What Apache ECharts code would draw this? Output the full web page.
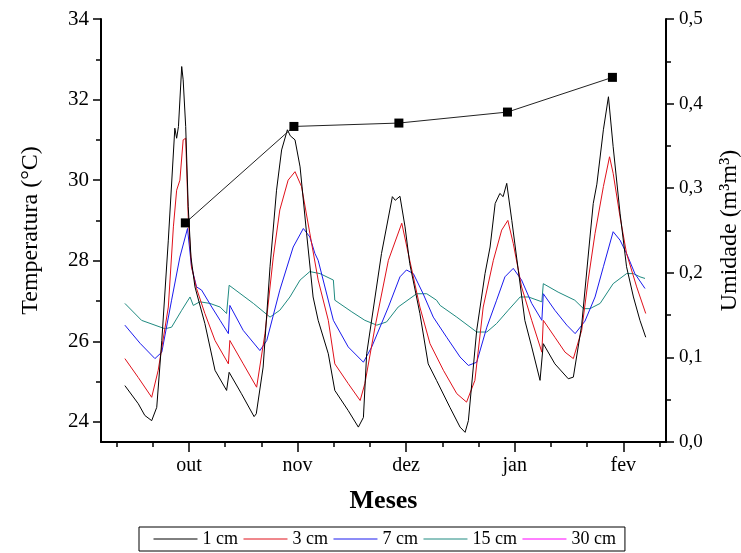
<!DOCTYPE html>
<html>
<head>
<meta charset="utf-8">
<script src="https://cdn.jsdelivr.net/npm/echarts@6/dist/echarts.min.js"></script>
<style>
html,body{margin:0;padding:0;background:#fff;}
#chart{width:741px;height:553px;}
</style>
</head>
<body>
<div id="chart"></div>
<script>
// x values are days counted from the "out" tick (out=0, nov=30, dez=60, jan=90, fev=120)
var monthLabels = ['out', 'nov', 'dez', 'jan', 'fev'];
var monthDays = [0, 30, 60, 90, 120];
var minorDays = [-20, -10, 10, 20, 40, 50, 70, 80, 100, 110, 130];
var tempTicks = [24, 26, 28, 30, 32, 34];
var tempMinorTicks = [25, 27, 29, 31, 33];
var seriesNames = ['1 cm', '3 cm', '7 cm', '15 cm', '30 cm'];

var t1cm = [[-17.7,24.90],[-14,24.45],[-12.2,24.16],[-10.3,24.03],[-8.9,24.36],[-7.5,26.02],[-5.7,28.51],[-3.9,31.29],[-3.4,31.04],[-2.9,31.33],[-2.0,32.82],[-1.6,32.49],[-0.9,31.33],[-0.2,29.34],[0.55,28.09],[1.66,27.35],[4.4,26.44],[7.2,25.28],[10.4,24.78],[11.1,25.23],[14.5,24.70],[18.0,24.13],[18.6,24.20],[20.5,25.36],[22.4,27.85],[24.2,29.75],[24.7,29.79],[25.6,30.75],[27.2,31.25],[28.0,31.10],[29.3,31.00],[30.7,30.33],[32.5,28.68],[34.3,27.10],[35.7,26.52],[38.5,25.69],[40.3,24.78],[44.0,24.28],[46.8,23.87],[48.2,24.11],[49.1,25.69],[53.2,28.18],[56.2,29.59],[57.0,29.50],[58.3,29.60],[59.7,28.84],[61.0,27.93],[63.8,26.69],[66.1,25.44],[68.4,25.03],[72.1,24.36],[74.9,23.87],[76.3,23.74],[77.2,24.03],[79.5,26.27],[81.8,27.68],[83.2,28.34],[84.6,29.42],[85.9,29.67],[86.8,29.59],[87.8,29.92],[89.2,29.00],[91.0,27.76],[92.8,26.52],[94.7,25.86],[97.0,25.03],[97.9,25.94],[101.1,25.44],[104.8,25.07],[106.2,25.11],[108.5,26.40],[110.8,28.59],[111.7,29.42],[112.7,29.90],[114.5,31.25],[115.9,32.07],[117.2,30.83],[119.1,29.18],[120.9,27.85],[122.8,27.10],[124.6,26.52],[126.2,26.10]];

var t3cm = [[-17.7,25.57],[-14,25.10],[-10.3,24.61],[-8.5,25.28],[-5.7,26.85],[-4.3,28.84],[-3.4,29.75],[-2.5,30.00],[-1.6,31.00],[-0.9,31.04],[-0.2,29.09],[0.7,27.85],[2.1,27.31],[4.4,26.69],[7.2,26.02],[10.9,25.44],[11.3,26.02],[15.0,25.44],[18.7,24.86],[21.0,26.19],[23.3,28.09],[25.1,29.26],[27.4,30.00],[29.3,30.21],[31.1,29.84],[33.4,28.68],[35.7,27.52],[38.5,26.52],[40.3,25.44],[44.0,24.95],[47.3,24.53],[48.6,24.95],[51.4,26.35],[55.1,28.01],[58.8,28.93],[61.0,28.01],[63.8,26.85],[66.6,25.94],[70.3,25.28],[74.0,24.70],[76.7,24.49],[79.0,25.03],[81.3,26.85],[84.1,28.01],[86.4,28.76],[88.1,29.00],[89.6,28.43],[91.9,27.35],[94.7,26.52],[97.5,25.73],[97.9,26.52],[101.1,26.10],[103.9,25.73],[106.2,25.57],[108.5,26.27],[110.3,27.52],[112.2,28.68],[114.5,29.84],[116.2,30.58],[117.2,30.17],[119.1,29.09],[120.9,28.18],[123.7,27.35],[126.2,26.69]];

var t7cm = [[-17.7,26.40],[-13.5,25.95],[-9.4,25.57],[-7.5,25.73],[-4.8,27.02],[-2.5,28.09],[-0.4,28.80],[0.7,27.85],[2.1,27.35],[3.5,27.27],[6.3,26.85],[8.6,26.52],[10.9,26.19],[11.3,26.89],[15.0,26.27],[19.6,25.77],[21.5,26.02],[25.1,27.27],[28.8,28.34],[31.6,28.80],[33.4,28.59],[34.8,28.18],[35.7,28.01],[39.9,26.52],[44.0,25.86],[48.2,25.48],[50.5,25.86],[55.1,26.85],[58.3,27.60],[60.1,27.77],[62.0,27.68],[64.7,27.18],[67.5,26.60],[71.2,26.10],[74.9,25.61],[77.2,25.40],[79.5,25.48],[82.3,26.35],[85.0,27.02],[87.3,27.60],[89.6,27.81],[91.9,27.52],[94.7,26.94],[97.5,26.52],[97.9,27.18],[101.1,26.77],[104.4,26.40],[106.7,26.19],[109.4,26.50],[112.2,27.10],[114.5,27.85],[117.2,28.72],[119.1,28.51],[120.9,28.18],[123.2,27.68],[126.0,27.31]];

var t15cm = [[-17.7,26.94],[-13.1,26.52],[-6.6,26.31],[-4.8,26.35],[-2.0,26.77],[0.3,27.10],[1.2,26.89],[3.0,26.98],[5.8,26.94],[8.6,26.85],[10.4,26.69],[11.1,27.39],[17.8,26.94],[22.4,26.60],[25.1,26.77],[27.9,27.10],[30.7,27.52],[33.4,27.73],[36.2,27.68],[39.9,27.52],[40.3,27.02],[45.0,26.73],[48.6,26.52],[51.9,26.40],[54.6,26.48],[57.8,26.85],[62.9,27.18],[65.7,27.18],[68.4,27.02],[69.4,26.89],[74.0,26.60],[79.5,26.23],[82.3,26.23],[85.0,26.44],[88.2,26.77],[91.5,27.10],[93.8,27.10],[97.5,26.98],[97.9,27.43],[102.0,27.22],[106.6,27.02],[109.0,26.81],[110.8,26.81],[113.6,26.94],[117.2,27.43],[120.9,27.68],[122.8,27.68],[124.6,27.60],[126.0,27.56]];

var t30cm = [];

var humidityDays = [-1, 29, 58, 88, 117];
var humidityValues = [0.259, 0.373, 0.377, 0.390, 0.431];

var colors = ['#000000', '#e0101a', '#1a1aee', '#1f8a80', '#ff00ff'];
var FONT = 'Liberation Serif';

var tempSeries = [t1cm, t3cm, t7cm, t15cm, t30cm];
var series = tempSeries.map(function (d, i) {
  return {
    name: seriesNames[i], type: 'line', xAxisIndex: 0, yAxisIndex: 0,
    data: d, symbol: 'none', showSymbol: false, smooth: false,
    lineStyle: {width: 1, color: colors[i]}, itemStyle: {color: colors[i]},
    z: 3 + (4 - i)
  };
});
series.push({
  name: 'Umidade', type: 'line', xAxisIndex: 0, yAxisIndex: 2,
  data: humidityDays.map(function (d, i) { return [d, humidityValues[i]]; }),
  symbol: 'rect', symbolSize: 9, showSymbol: true,
  lineStyle: {width: 1, color: '#222'}, itemStyle: {color: '#000'}, z: 10
});

var chart = echarts.init(document.getElementById('chart'), null, {renderer: 'canvas'});
chart.setOption({
  animation: false,
  backgroundColor: '#ffffff',
  grid: {left: 101, right: 75, top: 19, bottom: 111, containLabel: false, outerBoundsMode: 'none'},
  legend: {
    data: seriesNames, left: 139, top: 527,
    padding: [3, 9, 3, 14], itemGap: 5, itemWidth: 44, itemHeight: 14,
    borderColor: '#000', borderWidth: 1,
    itemStyle: {opacity: 0},
    lineStyle: {width: 1},
    textStyle: {fontFamily: FONT, fontSize: 18, color: '#000'}
  },
  xAxis: [{
    type: 'value', min: -24.3, max: 131.8, position: 'bottom',
    axisLine: {onZero: false, lineStyle: {color: '#000', width: 2}},
    axisTick: {customValues: monthDays, length: 10, lineStyle: {color: '#000', width: 1.5}},
    axisLabel: {customValues: monthDays, margin: 14, fontFamily: FONT, fontSize: 20, color: '#000',
      formatter: function (v) { var k = monthDays.indexOf(Math.round(v)); return k >= 0 ? monthLabels[k] : ''; }},
    splitLine: {show: false},
    name: 'Meses', nameLocation: 'middle', nameGap: 46,
    nameTextStyle: {fontFamily: FONT, fontSize: 26, fontWeight: 'bold', color: '#000'}
  }, {
    type: 'value', min: -24.3, max: 131.8, position: 'bottom',
    axisLine: {show: false, onZero: false},
    axisTick: {customValues: minorDays, length: 5, lineStyle: {color: '#000', width: 1.5}},
    axisLabel: {show: false}, splitLine: {show: false}
  }],
  yAxis: [{
    type: 'value', min: 23.5, max: 34, position: 'left',
    axisLine: {show: true, onZero: false, lineStyle: {color: '#000', width: 2}},
    axisTick: {show: true, customValues: tempTicks, length: 8, lineStyle: {color: '#000', width: 1.5}},
    axisLabel: {customValues: tempTicks, margin: 12, fontFamily: FONT, fontSize: 21, color: '#000'},
    splitLine: {show: false},
    name: 'Temperatura (°C)', nameLocation: 'middle', nameGap: 58, nameRotate: 90,
    nameTextStyle: {fontFamily: FONT, fontSize: 24, color: '#000'}
  }, {
    type: 'value', min: 23.5, max: 34, position: 'left',
    axisLine: {show: false, onZero: false},
    axisTick: {show: true, customValues: tempMinorTicks, length: 5, lineStyle: {color: '#000', width: 1.5}},
    axisLabel: {show: false}, splitLine: {show: false}
  }, {
    type: 'value', min: 0, max: 0.5, interval: 0.1, position: 'right',
    axisLine: {show: true, onZero: false, lineStyle: {color: '#000', width: 2}},
    axisTick: {show: true, length: 8, lineStyle: {color: '#000', width: 1.5}},
    minorTick: {show: true, splitNumber: 2, length: 5, lineStyle: {color: '#000', width: 1.5}},
    axisLabel: {margin: 13, fontFamily: FONT, fontSize: 19, color: '#000',
      formatter: function (v) { return v.toFixed(1).replace('.', ','); }},
    splitLine: {show: false}, minorSplitLine: {show: false},
    name: 'Umidade (m³m³)', nameLocation: 'middle', nameGap: 52, nameRotate: 90,
    nameTextStyle: {fontFamily: FONT, fontSize: 24, color: '#000'}
  }],
  series: series
});
</script>
</body>
</html>
